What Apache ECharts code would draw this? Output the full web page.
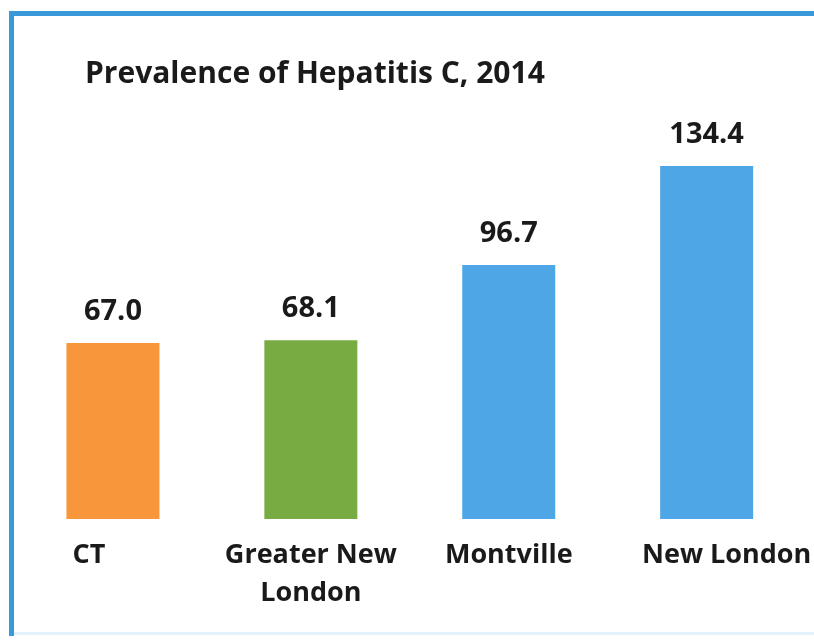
<!DOCTYPE html>
<html><head><meta charset="utf-8">
<script src="https://cdn.jsdelivr.net/npm/echarts@6/dist/echarts.min.js"></script>
<style>html,body{margin:0;padding:0;background:#fff}#c{width:814px;height:642px}</style>
</head><body><div id="c"></div>
<script>
const categories = ["CT", "Greater New\nLondon", "Montville", "New London"];
const values = [67.0, 68.1, 96.7, 134.4];
const barColors = ["#F7963A", "#78AC42", "#4EA6E6", "#4EA6E6"];

const chart = echarts.init(document.getElementById('c'));
const lblBase = {fontFamily: 'Open Sans', fontWeight: 'bold', fontSize: 27, color: '#1a1a1a', lineHeight: 38};
chart.setOption({
  backgroundColor: '#fff',
  animation: false,
  title: {
    text: 'Prevalence of Hepatitis C, 2014',
    left: 80, top: 54,
    textStyle: {fontFamily: 'Open Sans', fontWeight: 'bold', fontSize: 30, color: '#1a1a1a'}
  },
  graphic: [
    {type: 'rect', shape: {x: 9, y: 11, width: 5, height: 625}, style: {fill: '#3A9AD9'}},
    {type: 'rect', shape: {x: 9, y: 11, width: 810, height: 5}, style: {fill: '#3A9AD9'}},
    {type: 'rect', shape: {x: 14, y: 632, width: 800, height: 3}, style: {fill: '#E3F1FA'}}
  ],
  grid: {left: 14, right: 6, top: 166, bottom: 123, containLabel: false},
  xAxis: {
    type: 'category', data: categories,
    axisLine: {show: false}, axisTick: {show: false},
    axisLabel: {
      margin: 17, interval: 0,
      formatter: (v, i) => i === 0 ? '{l|' + v + '}' : (i === 3 ? '{r|' + v + '}' : v),
      ...lblBase,
      rich: {
        l: {...lblBase, padding: [0, 48, 0, 0]},
        r: {...lblBase, padding: [0, 0, 0, 40]}
      }
    }
  },
  yAxis: {type: 'value', min: 0, max: 134.4, show: false, splitLine: {show: false}},
  series: [{
    type: 'bar', barWidth: 93,
    data: values.map((v, i) => ({value: v, itemStyle: {color: barColors[i]}})),
    label: {
      show: true, position: 'top', distance: 17,
      formatter: p => p.value.toFixed(1),
      fontFamily: 'Open Sans', fontWeight: 'bold', fontSize: 29, color: '#1a1a1a'
    }
  }]
});
</script></body></html>
